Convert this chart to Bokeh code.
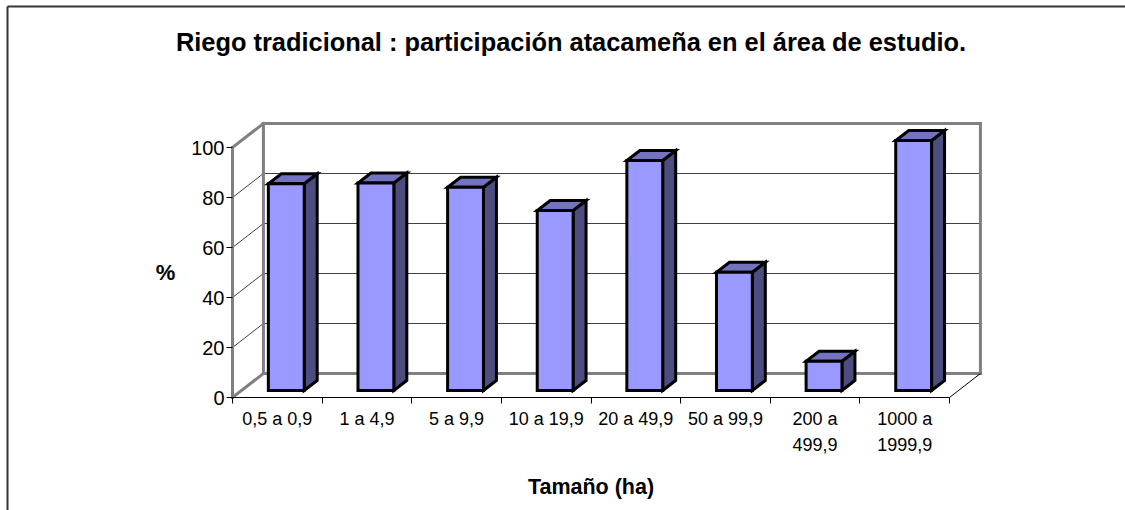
from bokeh.plotting import figure
from bokeh.models import Range1d, FixedTicker, Label
from bokeh.embed import file_html
from bokeh.resources import INLINE

categories = ["0,5 a 0,9", "1 a 4,9", "5 a 9,9", "10 a 19,9", "20 a 49,9",
              "50 a 99,9", "200 a\n499,9", "1000 a\n1999,9"]
values = [82.7, 83.0, 81.3, 72.0, 92.0, 47.3, 11.7, 100.0]
y_ticks = [0, 20, 40, 60, 80, 100]
title_text = "Riego tradicional : participación atacameña en el área de estudio."
x_title = "Tamaño (ha)"
y_title = "%"

FONT = "Liberation Sans"
N = len(categories)
YMAX = y_ticks[-1]
DX, DY = 0.345, 9.6      # oblique depth offset (data units)
F0, F1 = 0.29, 0.71      # bar front / back depth fractions
BW = 0.40                # bar width (category units)

# layout: page pixel of data origin and pixels per data unit
W, H = 1125, 510
OX, OY = 232.0, 397.0
PXX, PXY = 89.625, 2.5


def dx(px):
    return (px - OX) / PXX


def dy(py):
    return (OY - py) / PXY


p = figure(width=W, height=H,
           x_range=Range1d(dx(0), dx(W)), y_range=Range1d(dy(H), dy(0)),
           output_backend="svg", toolbar_location=None, min_border=0)
p.outline_line_color = None
p.xgrid.visible = False
p.ygrid.visible = False
p.background_fill_color = "white"
p.border_fill_color = "white"

GRID = "#404040"
WALL = "#808080"

# chart-area border (left and top edges; the rest lies outside the window)
p.segment(x0=[dx(7), dx(7)], y0=[dy(6), dy(6)], x1=[dx(W + 20), dx(7)], y1=[dy(6), dy(H + 20)],
          line_color="#333333", line_width=2)

# gridlines on back wall and left wall
inner = y_ticks[1:-1]
p.segment(x0=[DX] * len(inner), y0=[v + DY for v in inner],
          x1=[N + DX] * len(inner), y1=[v + DY for v in inner],
          line_color=GRID, line_width=1)
p.segment(x0=[0] * len(inner), y0=inner, x1=[DX] * len(inner),
          y1=[v + DY for v in inner], line_color=GRID, line_width=1)

# walls (thick gray edges)
p.segment(x0=[0, 0, 0, DX, DX, DX, N + DX],
          y0=[0, YMAX, 0, DY, YMAX + DY, DY, DY],
          x1=[0, DX, DX, N + DX, N + DX, DX, N + DX],
          y1=[YMAX, YMAX + DY, DY, DY, YMAX + DY, YMAX + DY, YMAX + DY],
          line_color=WALL, line_width=3, line_cap="square")

# floor front edge and right diagonal
p.segment(x0=[0, N], y0=[0, 0], x1=[N, N + DX], y1=[0, DY],
          line_color="black", line_width=1)

# bars
d = F1 - F0
side_xs, side_ys, top_xs, top_ys = [], [], [], []
L, R, B, T = [], [], [], []
for i, v in enumerate(values):
    l = i + 0.5 - BW / 2 + F0 * DX
    r = l + BW
    b = F0 * DY
    t = v + F0 * DY
    L.append(l); R.append(r); B.append(b); T.append(t)
    side_xs.append([r, r + d * DX, r + d * DX, r])
    side_ys.append([b, b + d * DY, t + d * DY, t])
    top_xs.append([l, r, r + d * DX, l + d * DX])
    top_ys.append([t, t, t + d * DY, t + d * DY])

p.patches(side_xs, side_ys, fill_color="#4D4D80", line_color="black",
          line_width=3, line_join="miter")
p.patches(top_xs, top_ys, fill_color="#7373BF", line_color="black",
          line_width=3, line_join="miter")
p.quad(left=L, right=R, bottom=B, top=T, fill_color="#9999FF",
       line_color="black", line_width=3, line_join="miter")

# axes, fixed at the data origin
xa = p.xaxis[0]
xa.fixed_location = 0
xa.ticker = FixedTicker(ticks=[i + 0.5 for i in range(N)], minor_ticks=list(range(N + 1)))
xa.major_label_overrides = {i + 0.5: c for i, c in enumerate(categories)}
xa.axis_line_color = None
xa.major_tick_out = 0
xa.major_tick_in = 0
xa.minor_tick_out = 6
xa.minor_tick_in = 0
xa.minor_tick_line_color = "black"
xa.major_label_text_font = FONT
xa.major_label_text_font_size = "18px"
xa.major_label_text_color = "black"
xa.major_label_text_line_height = 1.3
xa.major_label_standoff = 5

ya = p.yaxis[0]
ya.fixed_location = 0
ya.ticker = FixedTicker(ticks=y_ticks, minor_ticks=[])
ya.axis_line_color = None
ya.major_tick_out = 6
ya.major_tick_in = 0
ya.major_tick_line_color = "black"
ya.major_label_text_font = FONT
ya.major_label_text_font_size = "20px"
ya.major_label_text_color = "black"
ya.major_label_standoff = 2

# titles
p.add_layout(Label(x=dx(570.5), y=dy(41), text=title_text,
                   text_align="center", text_baseline="middle",
                   text_font=FONT, text_font_style="bold", text_font_size="25.4px",
                   text_color="black"))
p.add_layout(Label(x=N / 2, y=dy(486.5), text=x_title,
                   text_align="center", text_baseline="middle",
                   text_font=FONT, text_font_style="bold", text_font_size="21.5px",
                   text_color="black"))
p.add_layout(Label(x=dx(165), y=dy(272), text=y_title,
                   text_align="center", text_baseline="middle",
                   text_font=FONT, text_font_style="bold", text_font_size="22px",
                   text_color="black"))

open("out.html", "w").write(file_html(p, INLINE))
